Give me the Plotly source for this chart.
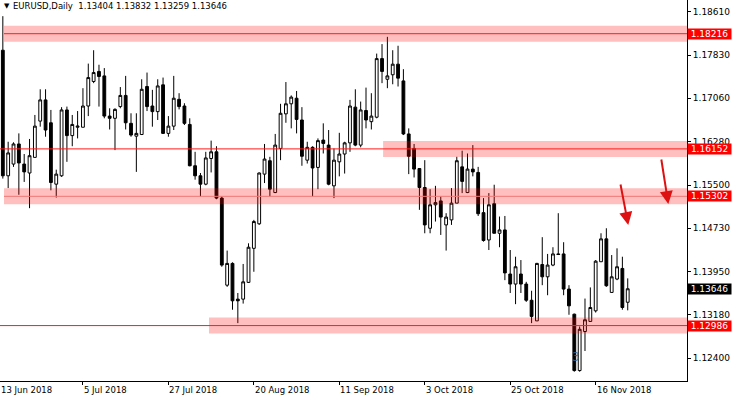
import plotly.graph_objects as go
import pandas as pd

# ---------------- data ----------------
dates = pd.bdate_range("2018-06-14", "2018-11-26")

opens = [1.1792, 1.1567, 1.1588, 1.1624, 1.1588, 1.1572, 1.1600, 1.1665, 1.1703, 1.1662,
         1.1552, 1.1567, 1.1685, 1.1639, 1.1654, 1.1654, 1.1692, 1.1736, 1.1754, 1.1746,
         1.1674, 1.1670, 1.1691, 1.1711, 1.1661, 1.1638, 1.1641, 1.1727, 1.1692, 1.1682,
         1.1730, 1.1643, 1.1656, 1.1704, 1.1692, 1.1659, 1.1585, 1.1567, 1.1552, 1.1598,
         1.1610, 1.1527, 1.1371, 1.1410, 1.1346, 1.1346, 1.1376, 1.1437, 1.1481, 1.1570,
         1.1594, 1.1537, 1.1616, 1.1678, 1.1696, 1.1706, 1.1667, 1.1595, 1.1618, 1.1582,
         1.1631, 1.1622, 1.1549, 1.1592, 1.1606, 1.1626, 1.1690, 1.1622, 1.1684, 1.1664,
         1.1672, 1.1777, 1.1740, 1.1748, 1.1767, 1.1737, 1.1642, 1.1616, 1.1580, 1.1546,
         1.1473, 1.1515, 1.1522, 1.1479, 1.1488, 1.1518, 1.1583, 1.1537, 1.1579, 1.1573,
         1.1501, 1.1452, 1.1517, 1.1464, 1.1470, 1.1391, 1.1373, 1.1391, 1.1373, 1.1344,
         1.1307, 1.1408, 1.1386, 1.1407, 1.1427, 1.1427, 1.1364, 1.1319, 1.1218, 1.1288,
         1.1306, 1.1325, 1.1413, 1.1454, 1.1358, 1.1382, 1.1401, 1.13404]
highs = [1.1853, 1.1628, 1.1627, 1.1643, 1.1606, 1.1633, 1.1676, 1.1722, 1.1722, 1.1685,
         1.1578, 1.1690, 1.1691, 1.1676, 1.1683, 1.1724, 1.1768, 1.1792, 1.1766, 1.1760,
         1.1688, 1.1688, 1.1726, 1.1746, 1.1679, 1.1679, 1.1740, 1.1752, 1.1721, 1.1740,
         1.1743, 1.1674, 1.1746, 1.1715, 1.1697, 1.1670, 1.1610, 1.1572, 1.1610, 1.1630,
         1.1620, 1.1530, 1.1433, 1.1412, 1.1357, 1.1409, 1.1446, 1.1488, 1.1573, 1.1624,
         1.1601, 1.1642, 1.1696, 1.1735, 1.1711, 1.1719, 1.1690, 1.1628, 1.1620, 1.1634,
         1.1661, 1.1649, 1.1616, 1.1644, 1.1628, 1.1703, 1.1722, 1.1700, 1.1725, 1.1715,
         1.1786, 1.1803, 1.1816, 1.1792, 1.1800, 1.1758, 1.1652, 1.1624, 1.1580, 1.1595,
         1.1543, 1.1549, 1.1530, 1.1500, 1.1545, 1.1601, 1.1612, 1.1607, 1.1622, 1.1583,
         1.1527, 1.1536, 1.1551, 1.1494, 1.1495, 1.1434, 1.1422, 1.1416, 1.1377, 1.1361,
         1.1411, 1.1457, 1.1427, 1.1439, 1.1500, 1.1448, 1.1371, 1.1320, 1.1297, 1.1347,
         1.1367, 1.1416, 1.1464, 1.1473, 1.1425, 1.1437, 1.1422, 1.13832]
lows = [1.1562, 1.1545, 1.1583, 1.1533, 1.1556, 1.1509, 1.1600, 1.1655, 1.1637, 1.1541,
        1.1528, 1.1565, 1.1592, 1.1620, 1.1634, 1.1654, 1.1674, 1.1733, 1.1691, 1.1670,
        1.1650, 1.1613, 1.1688, 1.1650, 1.1637, 1.1574, 1.1640, 1.1683, 1.1655, 1.1667,
        1.1642, 1.1637, 1.1649, 1.1686, 1.1658, 1.1584, 1.1560, 1.1530, 1.1550, 1.1573,
        1.1525, 1.1404, 1.1368, 1.1327, 1.1303, 1.1338, 1.1375, 1.1395, 1.1479, 1.1554,
        1.1530, 1.1536, 1.1595, 1.1662, 1.1652, 1.1643, 1.1585, 1.1589, 1.1530, 1.1543,
        1.1607, 1.1550, 1.1527, 1.1566, 1.1571, 1.1610, 1.1620, 1.1618, 1.1652, 1.1650,
        1.1670, 1.1733, 1.1724, 1.1731, 1.1727, 1.1640, 1.1570, 1.1564, 1.1506, 1.1464,
        1.1464, 1.1485, 1.1461, 1.1433, 1.1479, 1.1518, 1.1536, 1.1536, 1.1566, 1.1495,
        1.1449, 1.1434, 1.1464, 1.1439, 1.1380, 1.1357, 1.1337, 1.1357, 1.1341, 1.1303,
        1.1307, 1.1371, 1.1353, 1.1405, 1.1425, 1.1353, 1.1318, 1.1216, 1.1216, 1.1253,
        1.1306, 1.1322, 1.1413, 1.1368, 1.1358, 1.1380, 1.1327, 1.13259]
closes = [1.1567, 1.1608, 1.1624, 1.1590, 1.1574, 1.1603, 1.1656, 1.1703, 1.1649, 1.1555,
          1.1570, 1.1685, 1.1639, 1.1659, 1.1656, 1.1692, 1.1743, 1.1752, 1.1745, 1.1674,
          1.1670, 1.1686, 1.1711, 1.1662, 1.1640, 1.1643, 1.1722, 1.1691, 1.1682, 1.1728,
          1.1643, 1.1656, 1.1706, 1.1691, 1.1661, 1.1585, 1.1567, 1.1552, 1.1599, 1.1610,
          1.1527, 1.1407, 1.1410, 1.1343, 1.1343, 1.1377, 1.1439, 1.1485, 1.1572, 1.1597,
          1.1543, 1.1622, 1.1679, 1.1696, 1.1708, 1.1668, 1.1602, 1.1618, 1.1581, 1.1630,
          1.1625, 1.1552, 1.1595, 1.1606, 1.1626, 1.1692, 1.1622, 1.1685, 1.1667, 1.1674,
          1.1777, 1.1754, 1.1746, 1.1767, 1.1742, 1.1642, 1.1602, 1.1579, 1.1546, 1.1479,
          1.1515, 1.1519, 1.1493, 1.1493, 1.1518, 1.1594, 1.1557, 1.1579, 1.1574, 1.1499,
          1.1451, 1.1515, 1.1464, 1.1470, 1.1393, 1.1373, 1.1404, 1.1373, 1.1344, 1.1315,
          1.1410, 1.1386, 1.1407, 1.1427, 1.1426, 1.1364, 1.1334, 1.1218, 1.1292, 1.1309,
          1.1331, 1.1414, 1.1454, 1.1370, 1.1386, 1.1404, 1.1331, 1.13646]

first_bar_index = 1  # first visible bar (14 Jun 2018); 13 Jun 2018 is bar 0
date_tick_labels = ["13 Jun 2018", "5 Jul 2018", "27 Jul 2018", "20 Aug 2018",
                    "11 Sep 2018", "3 Oct 2018", "25 Oct 2018", "16 Nov 2018"]
date_tick_bars = [0, 16, 32, 48, 64, 80, 96, 112]
price_ticks = [1.18610, 1.17830, 1.17060, 1.16280, 1.15500, 1.14730, 1.13950, 1.13180, 1.12400]
levels = [1.18216, 1.16152, 1.15302, 1.12986]
header = "EURUSD,Daily  1.13404 1.13832 1.13259 1.13646"
last_price = 1.13646

# ---------------- styling / positions ----------------
x_range = [0.47, 129.1]
y_range = [1.11993, 1.18820]
band_half = 0.00143
band_start = [1.22, 72.2, 1.22, 39.6]
line_start = [1.22, 0.47, 1.22, 0.47]
line_colors = ["#ff1a1a", "#ff1a1a", "#f07878", "#ff1a1a"]
arrows = [  # (head_x, head_y, tail_x, tail_y) in data units
    (118.1, 1.14789, 116.6, 1.15541),
    (125.6, 1.15165, 124.25, 1.15989),
]
FONT = "DejaVu Sans"

xs = list(range(first_bar_index, first_bar_index + len(opens)))

fig = go.Figure()
fig.add_trace(go.Candlestick(
    x=xs, open=opens, high=highs, low=lows, close=closes,
    increasing=dict(line=dict(color="black", width=1), fillcolor="white"),
    decreasing=dict(line=dict(color="black", width=1), fillcolor="black"),
    whiskerwidth=0, hoverinfo="skip", showlegend=False,
))

shapes = []
for lvl, x0 in zip(levels, band_start):
    shapes.append(dict(type="rect", xref="x", yref="y", x0=x0, x1=x_range[1],
                       y0=lvl - band_half, y1=lvl + band_half,
                       fillcolor="rgba(255,0,0,0.25)", line=dict(width=0), layer="above"))
for lvl, x0, c in zip(levels, line_start, line_colors):
    shapes.append(dict(type="line", xref="x", yref="y", x0=x0, x1=x_range[1],
                       y0=lvl, y1=lvl, line=dict(color=c, width=1), layer="above"))

annotations = []
# header
annotations.append(dict(xref="paper", yref="paper", x=0, y=1, xanchor="left", yanchor="top",
                        xshift=2, yshift=0, text="▼", showarrow=False,
                        font=dict(family=FONT, size=7, color="black")))
annotations.append(dict(xref="paper", yref="paper", x=0, y=1, xanchor="left", yanchor="top",
                        xshift=11, yshift=1, text=header, showarrow=False,
                        font=dict(family=FONT, size=8.5, color="black")))
# date labels
for lbl, b in zip(date_tick_labels, date_tick_bars):
    annotations.append(dict(xref="x", yref="paper", x=max(b, x_range[0]), y=0,
                            xanchor="left", yanchor="top", yshift=-2, xshift=-1,
                            text=lbl, showarrow=False,
                            font=dict(family=FONT, size=8.5, color="black")))
# level price labels
for lvl in levels:
    annotations.append(dict(xref="paper", yref="y", x=1, y=lvl, xanchor="left", yanchor="middle",
                            text=f"{lvl:.5f}", showarrow=False, bgcolor="#ff0000",
                            borderpad=0, width=43, align="center",
                            font=dict(family=FONT, size=9, color="white")))
annotations.append(dict(xref="paper", yref="y", x=1, y=last_price, xanchor="left", yanchor="middle",
                        text=f"{last_price:.5f}", showarrow=False, bgcolor="black",
                        borderpad=0, width=43, align="center",
                        font=dict(family=FONT, size=9, color="white")))
# red arrows
for hx, hy, tx, ty in arrows:
    annotations.append(dict(xref="x", yref="y", axref="x", ayref="y", x=hx, y=hy, ax=tx, ay=ty,
                            text="", showarrow=True, arrowhead=2, arrowsize=1.3,
                            arrowwidth=2, arrowcolor="#dd1111", standoff=0))
# faint blue wave label
annotations.append(dict(xref="x", yref="y", x=108.3, y=1.12420, text="3", showarrow=False,
                        font=dict(family=FONT, size=12, color="rgba(50,100,150,0.85)")))

fig.update_layout(
    width=733, height=399,
    margin=dict(l=0, r=46, t=0, b=18),
    plot_bgcolor="white", paper_bgcolor="white",
    showlegend=False,
    boxgap=0.25,
    shapes=shapes, annotations=annotations,
    xaxis=dict(range=x_range, showgrid=False, zeroline=False, showline=True,
               linecolor="black", linewidth=1, ticks="outside", ticklen=3, tickcolor="black",
               tickvals=date_tick_bars[1:], showticklabels=False,
               rangeslider=dict(visible=False), fixedrange=True),
    yaxis=dict(side="right", range=y_range, showgrid=False, zeroline=False, showline=True,
               linecolor="black", linewidth=1, ticks="outside", ticklen=3, tickcolor="black",
               tickvals=price_ticks, ticktext=[f"{v:.5f}" for v in price_ticks],
               tickfont=dict(family=FONT, size=9, color="black"), fixedrange=True),
)

fig.write_html("out.html", config={"displayModeBar": False},
               post_script="document.body.style.margin='0';document.body.style.overflow='hidden';")
